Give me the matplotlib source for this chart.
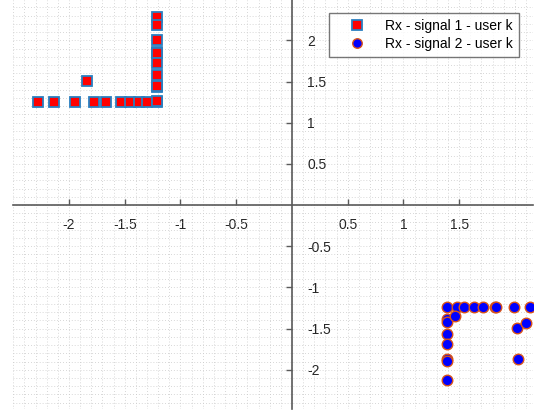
import matplotlib
matplotlib.use('Agg')
import matplotlib.pyplot as plt
import numpy as np
from matplotlib.ticker import MultipleLocator, FixedLocator, FixedFormatter

plt.rcParams['font.family'] = ['Liberation Sans', 'DejaVu Sans']
plt.rcParams['axes.unicode_minus'] = False

# signal 1 (red squares), second quadrant
sig1_x = [-2.275, -2.131, -1.948, -1.777, -1.667, -1.535, -1.454, -1.376, -1.298, -1.208,
          -1.835,
          -1.208, -1.208, -1.208, -1.208, -1.208, -1.208, -1.208, -1.208, -1.208, -1.208]
sig1_y = [1.255, 1.255, 1.255, 1.255, 1.255, 1.255, 1.255, 1.255, 1.255, 1.255,
          1.506,
          2.285, 2.184, 2.007, 1.853, 1.845, 1.728, 1.579, 1.437, 1.445, 1.262]

# signal 2 (blue circles), fourth quadrant
sig2_x = [1.394, 1.478, 1.543, 1.633, 1.718, 1.819, 1.832, 1.993, 2.133,
          1.394, 1.394, 1.394, 1.394, 1.394, 1.394, 1.394,
          1.463, 2.023, 2.104, 2.032]
sig2_y = [-1.234, -1.234, -1.234, -1.234, -1.234, -1.234, -1.234, -1.234, -1.234,
          -1.387, -1.415, -1.569, -1.682, -1.872, -1.892, -2.122,
          -1.347, -1.496, -1.432, -1.875]

xticks = [-2, -1.5, -1, -0.5, 0.5, 1, 1.5]
yticks = [-2, -1.5, -1, -0.5, 0.5, 1, 1.5, 2]
labels = ['Rx - signal 1 - user k', 'Rx - signal 2 - user k']

fig = plt.figure(figsize=(5.4, 4.13), dpi=100)
ax = fig.add_axes([13.3 / 540, 3.7 / 413, 519.4 / 540, 409.3 / 413])

ax.plot(sig1_x, sig1_y, 's', ms=7.4, mfc='#ff0000', mec='#2a7fc0', mew=1.3,
        linestyle='none', label=labels[0])
ax.plot(sig2_x, sig2_y, 'o', ms=7.6, mfc='#0000ff', mec='#d95319', mew=1.0,
        linestyle='none', label=labels[1])

ax.set_xlim(-2.5, 2.16)
ax.set_ylim(-2.48, 2.49)

axcol = '#5a5a5a'
ax.spines['bottom'].set_position(('data', 0))
ax.spines['right'].set_position(('data', 0))
ax.spines['top'].set_visible(False)
ax.spines['left'].set_visible(False)
for s in ['bottom', 'right']:
    ax.spines[s].set_color(axcol)
    ax.spines[s].set_linewidth(1.2)

ax.xaxis.set_ticks_position('bottom')
ax.yaxis.set_ticks_position('right')
ax.xaxis.set_major_locator(FixedLocator(xticks))
ax.yaxis.set_major_locator(FixedLocator(yticks))
ax.xaxis.set_major_formatter(FixedFormatter(['%g' % v for v in xticks]))
ax.yaxis.set_major_formatter(FixedFormatter(['%g' % v for v in yticks]))
ax.xaxis.set_minor_locator(MultipleLocator(0.1))
ax.yaxis.set_minor_locator(MultipleLocator(0.1))
ax.tick_params(axis='x', which='major', direction='in', length=4, width=1,
               color=axcol, labelsize=10, pad=9, labelcolor='#262626')
ax.tick_params(axis='y', which='major', direction='in', length=4, width=1,
               color=axcol, labelsize=10, pad=11, labelcolor='#262626')
ax.tick_params(which='minor', length=0)

ax.grid(which='both', linestyle=(0, (1, 2.5)), color='#cacaca', linewidth=0.6)
ax.set_axisbelow(True)

leg = ax.legend(loc='upper right', bbox_to_anchor=(0.974, 0.969), borderaxespad=0,
                fontsize=10, frameon=True, fancybox=False, edgecolor='#555555',
                handletextpad=0.42, borderpad=0.42, labelspacing=0.3, handlelength=3.2,
                markerscale=0.9)
leg.get_frame().set_linewidth(1.0)

fig.savefig('out.png', dpi=100)
